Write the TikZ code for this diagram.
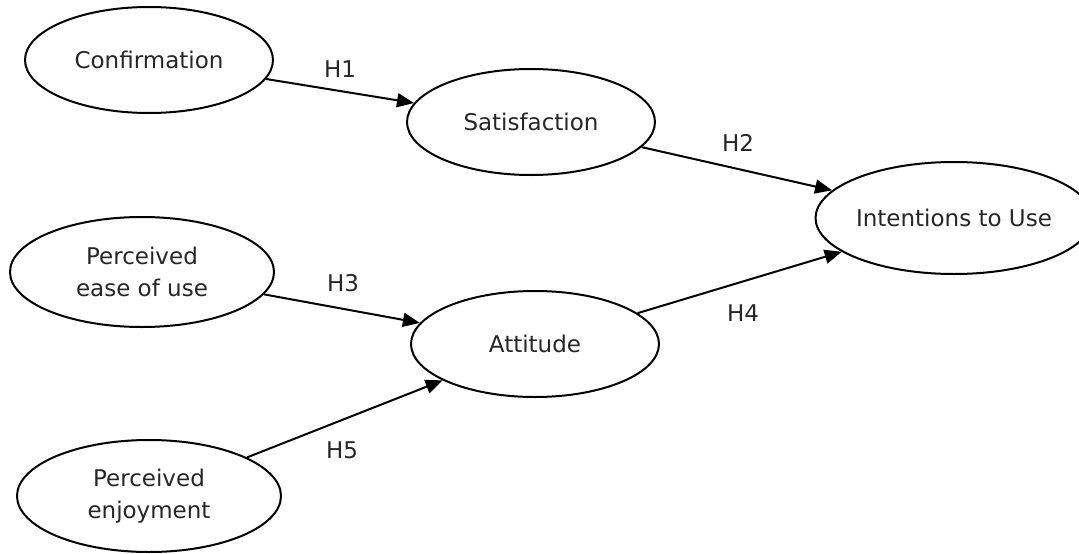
\documentclass[tikz,border=0pt]{standalone}
\usepackage{fontspec}
\setmainfont{DejaVu Sans}
\usetikzlibrary{shapes.geometric,arrows.meta}
\tikzset{
  construct/.style={draw, ellipse, line width=2pt, minimum width=248pt, minimum height=106pt,
    inner sep=0pt, align=center, text=black!85, font=\fontsize{23}{32}\selectfont},
  hyp/.style={text=black!85, font=\fontsize{23}{27}\selectfont},
  link/.style={draw, line width=2pt, -{Triangle[length=17pt,width=14pt]}}
}
\begin{document}
\begin{tikzpicture}[x=1pt,y=-1pt]
\useasboundingbox (0,0) rectangle (1079,554);
\node[construct] (conf) at (149,60) {Confirmation};
\node[construct] (sat) at (531,122) {Satisfaction};
\node[construct, minimum width=250pt, minimum height=112pt] (int) at (954,218) {Intentions to Use};
\node[construct, minimum width=264pt, minimum height=110pt] (peou) at (142,272) {Perceived\\ease of use};
\node[construct] (att) at (535,344) {Attitude};
\node[construct, minimum width=264pt, minimum height=112pt] (enj) at (149,496) {Perceived\\enjoyment};
\path[link] (conf) -- (sat);
\path[link] (sat) -- (int);
\path[link] (peou) -- (att);
\path[link] (att) -- (int);
\path[link] (enj) -- (att);
\node[hyp] (h1) at (340,69) {H1};
\node[hyp] (h2) at (738,143) {H2};
\node[hyp] (h3) at (343,283) {H3};
\node[hyp] (h4) at (743,313) {H4};
\node[hyp] (h5) at (342,450) {H5};
\end{tikzpicture}
\end{document}
